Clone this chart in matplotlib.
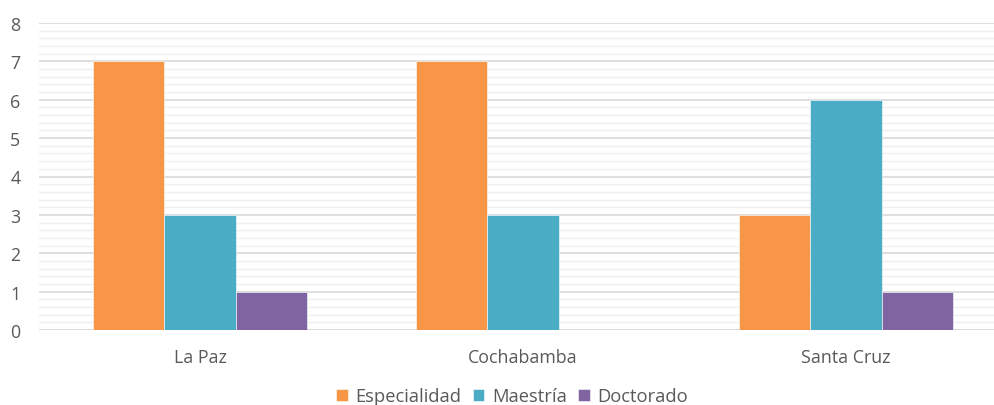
import numpy as np
import matplotlib.pyplot as plt
from matplotlib.ticker import MultipleLocator

categories = ['La Paz', 'Cochabamba', 'Santa Cruz']
series_names = ['Especialidad', 'Maestría', 'Doctorado']
especialidad = [7, 7, 3]
maestria = [3, 3, 6]
doctorado = [1, 0, 1]
colors = ['#F79646', '#4BACC6', '#8064A2']

plt.rcParams['font.family'] = ['Open Sans', 'DejaVu Sans']
text_color = '#595959'

fig = plt.figure(figsize=(9.94, 4.06), dpi=100)
ax = fig.add_axes([38.5 / 994, 75 / 406, 969 / 994, 307 / 406])

x = np.arange(len(categories))
w = 0.22
for i, (vals, name) in enumerate(zip([especialidad, maestria, doctorado], series_names)):
  ax.bar(x + (i - 1) * w, vals, w, color=colors[i], label=name,
         edgecolor='white', linewidth=0.4, zorder=3)

ax.set_xlim(-0.5, 2.5)
ax.set_ylim(0, 8)
ax.yaxis.set_major_locator(MultipleLocator(1))
ax.yaxis.set_minor_locator(MultipleLocator(0.2))
ax.grid(axis='y', which='major', color='#D9D9D9', linewidth=1.2, zorder=0)
ax.grid(axis='y', which='minor', color='#EFEFEF', linewidth=1.0, zorder=0)
for s in ax.spines.values():
  s.set_visible(False)
ax.axhline(0, color='#D9D9D9', linewidth=1.2, zorder=2)
ax.set_xticks(x)
ax.set_xticklabels(categories)
ax.tick_params(axis='both', which='both', length=0, colors=text_color, labelsize=12.8)
ax.tick_params(axis='x', pad=13)
ax.tick_params(axis='y', pad=13)

fig.legend(loc='center', bbox_to_anchor=(0.515, 0.022), ncol=3, frameon=False,
           handlelength=0.65, handleheight=0.65, handletextpad=0.4, columnspacing=0.6,
           fontsize=13.2, labelcolor=text_color)

fig.savefig('out.png', dpi=100)
